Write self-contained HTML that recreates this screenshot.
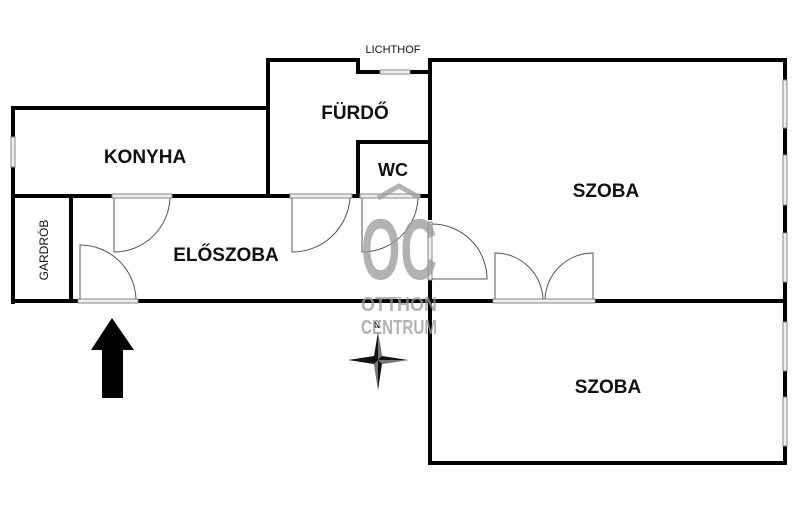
<!DOCTYPE html><html><head><style>body{margin:0;background:#fff}svg{display:block}</style></head><body>
<svg width="800" height="519" viewBox="0 0 800 519" xmlns="http://www.w3.org/2000/svg" font-family="Liberation Sans, sans-serif">
<g stroke="#000" stroke-width="4" fill="none" stroke-linecap="square">
<path d="M13 108H268M268 60V196M268 60H358V72H380M410 72H430M430 60H785V463H430V60"/>
<path d="M13 108V137M13 167V302"/>
<path d="M13 196H112M172 196H290M352 196H360M420 196H430"/>
<path d="M13 301H78M138 301H430M430 301H493M595 301H785"/>
<path d="M358 142V196M358 142H430M71 196V301"/>
</g>
<rect x="428" y="220" width="4" height="60" fill="#fff"/>
<g stroke="#888" stroke-width="1" fill="#eee">
<rect x="380" y="70" width="30" height="4"/><rect x="11" y="137" width="4" height="30"/>
<rect x="112" y="194" width="60" height="4"/><rect x="290" y="194" width="62" height="4"/><rect x="360" y="194" width="60" height="4"/>
<rect x="78" y="299" width="60" height="4"/><rect x="493" y="299" width="102" height="4"/><rect x="428" y="222" width="4" height="58"/>
<rect x="783" y="80" width="4" height="48"/><rect x="783" y="155" width="4" height="50"/><rect x="783" y="233" width="4" height="49"/>
<rect x="783" y="322" width="4" height="49"/><rect x="783" y="397" width="4" height="49"/>
</g>
<g stroke="#555" stroke-width="1" fill="none">
<path d="M114 198V252A56 56 0 0 0 170 198"/>
<path d="M292 198V252A58 58 0 0 0 350 198"/>
<path d="M362 198V252A56 56 0 0 0 418 198"/>
<path d="M80 299V245A56 56 0 0 1 136 299"/>
<path d="M432 279H487A55 55 0 0 0 432 224"/>
<path d="M495 299V253A48 48 0 0 1 543 299M593 299V253A48 48 0 0 0 545 299"/>
</g>
<g fill="#999" opacity="0.75" font-weight="bold">
<path d="M378 198L399 186L420 198" stroke="#999" stroke-width="5" fill="none"/>
<text x="399" y="279" font-size="86" text-anchor="middle" textLength="76" lengthAdjust="spacingAndGlyphs">OC</text>
<text x="399" y="311" font-size="20" text-anchor="middle" textLength="76" lengthAdjust="spacingAndGlyphs">OTTHON</text>
<text x="399" y="334" font-size="20" text-anchor="middle" textLength="76" lengthAdjust="spacingAndGlyphs">CENTRUM</text>
</g>
<g font-weight="bold" fill="#111" text-anchor="middle">
<text x="145" y="163" font-size="19">KONYHA</text>
<text x="355" y="119" font-size="19">FÜRDŐ</text>
<text x="393" y="176" font-size="18">WC</text>
<text x="226" y="261" font-size="19">ELŐSZOBA</text>
<text x="606" y="197" font-size="19">SZOBA</text>
<text x="608" y="393" font-size="19">SZOBA</text>
<text x="393" y="53" font-size="11" font-weight="normal">LICHTHOF</text>
<text x="48" y="250" font-size="12" font-weight="normal" transform="rotate(-90 48 250)">GARDRÓB</text>
<text x="377" y="328" font-size="8" font-weight="normal">N</text>
</g>
<path d="M378 332L382 356L408 360L382 364L378 390L374 364L348 360L374 356Z" fill="#111"/>
<path d="M378 360L382 356L378 332ZM378 360L382 364L408 360ZM378 360L374 364L378 390Z" fill="#777"/>
<path d="M112 318L134 350H123V398H102V350H91Z" fill="#000"/>
</svg></body></html>
